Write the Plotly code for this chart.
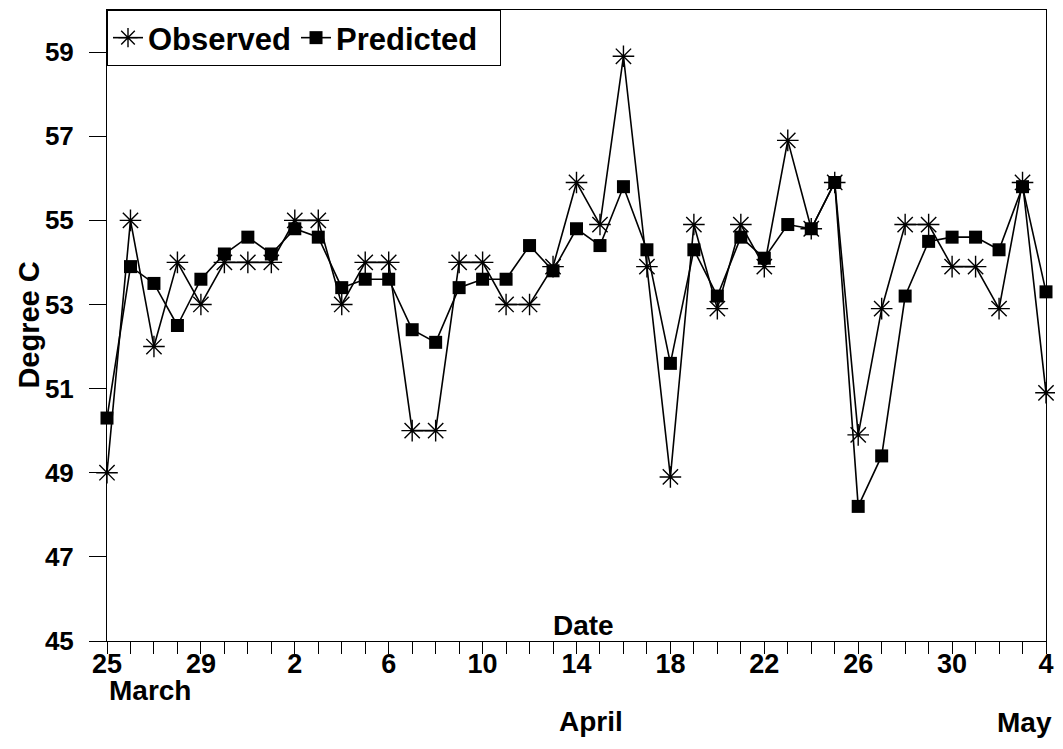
import plotly.graph_objects as go

# Day index 0 = 25 March ... 40 = 4 May
days = list(range(41))
observed = [49.0, 55.0, 52.0, 54.0, 53.0, 54.0, 54.0, 54.0, 55.0, 55.0,
            53.0, 54.0, 54.0, 50.0, 50.0, 54.0, 54.0, 53.0, 53.0, 53.9,
            55.9, 54.9, 58.9, 53.9, 48.9, 54.9, 52.9, 54.9, 53.9, 56.9,
            54.8, 55.9, 49.9, 52.9, 54.9, 54.9, 53.9, 53.9, 52.9, 55.9,
            50.9]
predicted = [50.3, 53.9, 53.5, 52.5, 53.6, 54.2, 54.6, 54.2, 54.8, 54.6,
             53.4, 53.6, 53.6, 52.4, 52.1, 53.4, 53.6, 53.6, 54.4, 53.8,
             54.8, 54.4, 55.8, 54.3, 51.6, 54.3, 53.2, 54.6, 54.1, 54.9,
             54.8, 55.9, 48.2, 49.4, 53.2, 54.5, 54.6, 54.6, 54.3, 55.8,
             53.3]
x_tickvals = [0, 4, 8, 12, 16, 20, 24, 28, 32, 36, 40]
x_ticktext = ["25", "29", "2", "6", "10", "14", "18", "22", "26", "30", "4"]
y_tickvals = [45, 47, 49, 51, 53, 55, 57, 59]

FONT = "Liberation Sans, Arial, sans-serif"

fig = go.Figure()
fig.add_trace(go.Scatter(
    x=days, y=observed, mode="lines+markers", name="Observed",
    line=dict(color="black", width=1.6),
    marker=dict(symbol="asterisk-open", size=18, color="black",
                line=dict(color="black", width=1.4)),
    cliponaxis=False))
fig.add_trace(go.Scatter(
    x=days, y=predicted, mode="lines+markers", name="Predicted&nbsp;&nbsp;",
    line=dict(color="black", width=1.6),
    marker=dict(symbol="square", size=13, color="black"),
    cliponaxis=False))

fig.update_layout(
    width=1047, height=733,
    margin=dict(l=99, r=9, t=2, b=100),
    paper_bgcolor="white", plot_bgcolor="white",
    font=dict(family=FONT, color="black"),
    showlegend=True,
    legend=dict(x=0, y=1, xanchor="left", yanchor="top", orientation="h",
                bordercolor="black", borderwidth=1, bgcolor="white",
                font=dict(size=31, family=FONT, weight="bold"),
                itemwidth=30, tracegroupgap=0),
    xaxis=dict(range=[0, 40], tickmode="array", tickvals=x_tickvals,
               ticktext=x_ticktext, ticks="outside", ticklen=12,
               tickcolor="black", tickwidth=1, ticklabelstandoff=-13,
               minor=dict(dtick=1, tick0=0, ticks="outside", ticklen=12,
                          tickcolor="black", tickwidth=1),
               showline=True, linecolor="black", linewidth=1, mirror=True,
               showgrid=False, zeroline=False,
               tickfont=dict(size=27, family=FONT, weight="bold")),
    yaxis=dict(range=[45, 60], tickmode="array", tickvals=y_tickvals,
               ticks="outside", ticklen=17, tickcolor="black", tickwidth=1,
               ticklabelstandoff=10,
               showline=True, linecolor="black", linewidth=1, mirror=True,
               showgrid=False, zeroline=False,
               tickfont=dict(size=26, family=FONT, weight="bold")),
)

ann_font = dict(size=28, family=FONT, weight="bold", color="black")
fig.add_annotation(text="Degree C", x=-0.084, y=0.5, xref="paper",
                   yref="paper", xanchor="center", yanchor="middle",
                   textangle=-90, showarrow=False,
                   font=dict(size=29, family=FONT, weight="bold",
                             color="black"))
fig.add_annotation(text="Date", x=20.3, y=45.36, xref="x", yref="y",
                   xanchor="center", yanchor="middle", showarrow=False,
                   font=ann_font)
fig.add_annotation(text="March", x=0, y=-0.0777, xref="x", yref="paper",
                   xanchor="left", yanchor="middle", showarrow=False,
                   font=ann_font)
fig.add_annotation(text="April", x=20.6, y=-0.128, xref="x", yref="paper",
                   xanchor="center", yanchor="middle", showarrow=False,
                   font=ann_font)
fig.add_annotation(text="May", x=1.0085, y=-0.157, xref="paper", yref="paper",
                   xanchor="right", yanchor="bottom", showarrow=False,
                   font=ann_font)

fig.write_html("out.html")
